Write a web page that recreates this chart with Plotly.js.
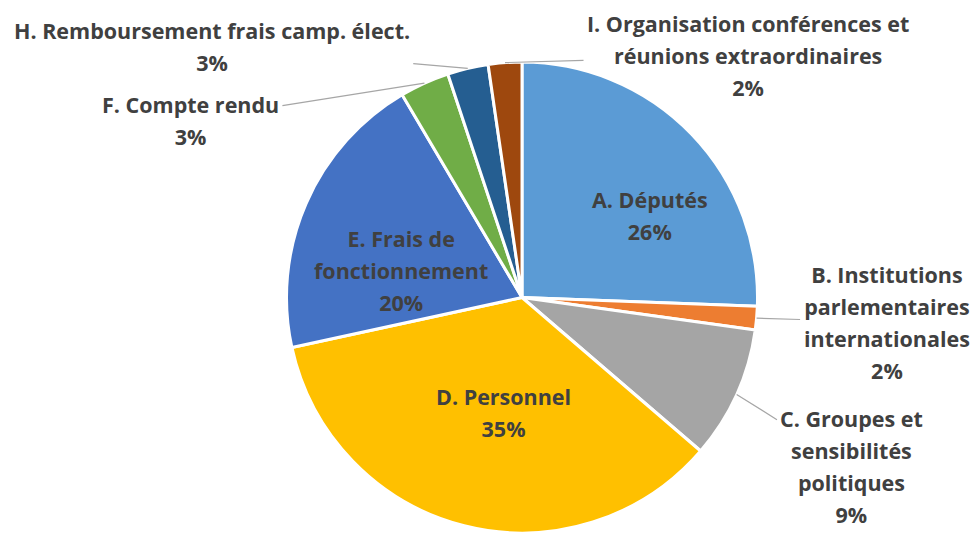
<!DOCTYPE html>
<html><head><meta charset="utf-8">
<script src="https://cdn.plot.ly/plotly-3.0.1.min.js"></script>
<style>html,body{margin:0;padding:0;background:#fff}</style>
</head><body>
<div id="chart" style="width:977px;height:533px"></div>
<script>
// Data
const categories = [
  "A. Députés",
  "B. Institutions parlementaires internationales",
  "C. Groupes et sensibilités politiques",
  "D. Personnel",
  "E. Frais de fonctionnement",
  "F. Compte rendu",
  "H. Remboursement frais camp. élect.",
  "I. Organisation conférences et réunions extraordinaires"
];
const labelLines = [
  ["A. Députés"],
  ["B. Institutions", "parlementaires", "internationales"],
  ["C. Groupes et", "sensibilités", "politiques"],
  ["D. Personnel"],
  ["E. Frais de", "fonctionnement"],
  ["F. Compte rendu"],
  ["H. Remboursement frais camp. élect."],
  ["I. Organisation conférences et", "réunions extraordinaires"]
];
const shares = [25.6, 1.6, 9.1, 35.3, 19.9, 3.4, 2.8, 2.3];
const colors = ["#5B9BD5", "#ED7D31", "#A5A5A5", "#FFC000", "#4472C4", "#70AD47", "#255E91", "#9E480E"];

// Label style (placement relative to each slice)
const inside = [true, false, false, true, true, false, false, false];
const radialFrac = [0.6, 1, 1, 0.6, 0.6, 1, 1, 1];
const offX = [26, 130, 115, 16, 8, -234, -256, 243];
const offY = [16, 4, 72, -22, 30, 37, -22, -7];

const W = 977, H = 533;
const domX = [0.0686, 1], domY = [0, 0.8837];
const cx = (domX[0] + domX[1]) / 2 * W;
const cy = (1 - (domY[0] + domY[1]) / 2) * H;
const R = Math.min((domX[1] - domX[0]) * W, (domY[1] - domY[0]) * H) / 2;

const total = shares.reduce((a, b) => a + b, 0);
let cum = 0;
const annotations = shares.map((v, i) => {
  const mid = (cum + v / 2) / total * 2 * Math.PI;
  cum += v;
  const r = R * radialFrac[i];
  const px = cx + r * Math.sin(mid);
  const py = cy - r * Math.cos(mid);
  const pct = Math.round(v / total * 100) + "%";
  const lines = labelLines[i].concat([pct]).map(s => '<span style="font-size:21.5px">' + s + '</span>');
  return {
    x: px / W, y: 1 - py / H, xref: "paper", yref: "paper",
    text: lines.join("<br>"),
    showarrow: true, ax: offX[i], ay: offY[i],
    arrowhead: 0, arrowwidth: 1.2, standoff: 0, startstandoff: 2,
    arrowcolor: inside[i] ? "rgba(0,0,0,0)" : "#A6A6A6",
    font: {family: "'Open Sans', Lato, sans-serif", size: 24.6, color: "#404040", weight: 700},
    align: "center"
  };
});

const trace = {
  type: "pie",
  labels: categories,
  values: shares,
  sort: false,
  direction: "clockwise",
  rotation: 0,
  marker: {colors: colors, line: {color: "#FFFFFF", width: 3}},
  textinfo: "none",
  hoverinfo: "label+percent",
  domain: {x: domX, y: domY},
  showlegend: false
};

Plotly.newPlot("chart", [trace], {
  width: W, height: H,
  margin: {l: 0, r: 0, t: 0, b: 0},
  paper_bgcolor: "#FFFFFF",
  showlegend: false,
  annotations: annotations
}, {displayModeBar: false, staticPlot: true});
</script>
</body></html>
